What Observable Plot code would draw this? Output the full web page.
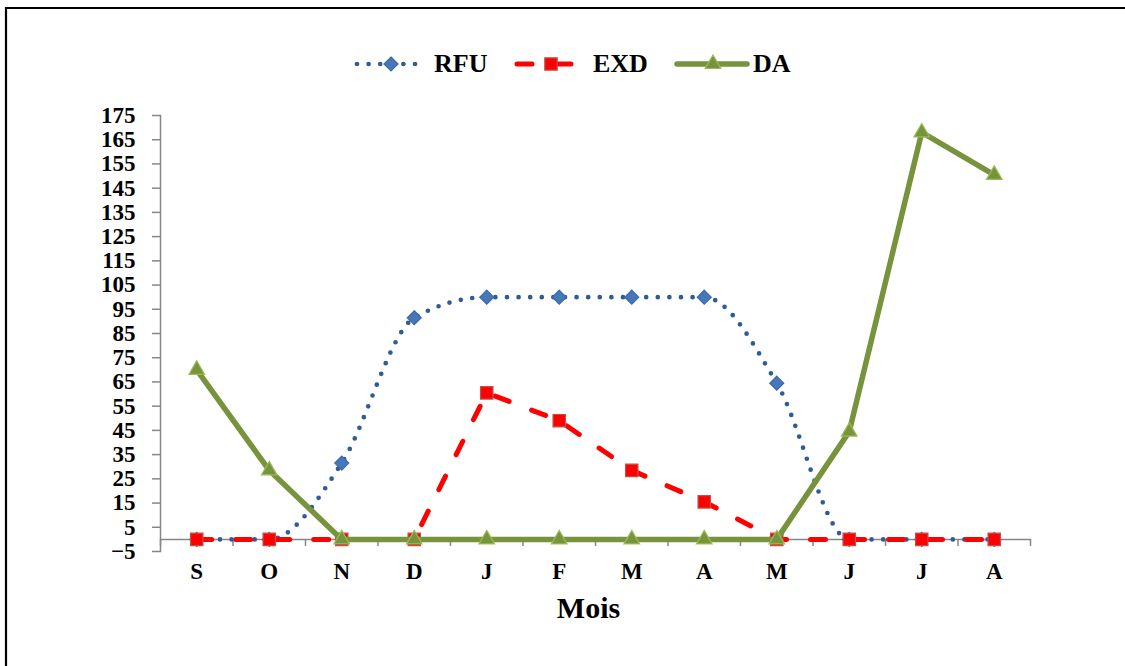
<!DOCTYPE html>
<html><head><meta charset="utf-8">
<script src="https://cdn.jsdelivr.net/npm/d3@7"></script>
<script src="https://cdn.jsdelivr.net/npm/@observablehq/plot@0.6"></script>
<style>
html,body{margin:0;background:#fff;overflow:hidden;}
#wrap{position:relative;width:1125px;height:666px;overflow:hidden;background:#fff}
#border{position:absolute;left:0;top:0;pointer-events:none}
#legend svg,#chart svg{display:block}
</style></head>
<body><div id="wrap"><div id="legend"></div><div id="chart"></div><svg id="border" width="1125" height="666"></svg></div>
<script>
// ---- data ----
const months = ["S","O","N","D","J","F","M","A","M","J","J","A"];
const seriesNames = ["RFU","EXD","DA"];
const rfu = [0, 0, 31.5, 91.5, 100, 100, 100, 100, 64.5, 0, 0, 0];
const exd = [0, 0, 0, 0, 60.5, 49, 28.5, 15.5, 0, 0, 0, 0];
const da  = [70, 28.5, 0, 0, 0, 0, 0, 0, 0, 44.5, 168, 150.5];
const yTicks = d3.range(-5, 176, 10);

// ---- styles ----
const FONT = "'Liberation Serif','Times New Roman',serif";
const styles = {
  RFU: {stroke:"#2F5B96", width:4.7, dash:"0 11.6", symbol:"diamond2", r:6.3, mfill:"#4677BA", mstroke:"#3A6AAD", curve:"monotone-x"},
  EXD: {stroke:"#FF0000", width:5, dash:"15 24", symbol:"square", r:7, mfill:"#FF0000", mstroke:"#C0504D", curve:"linear"},
  DA:  {stroke:"#77933C", width:5.5, dash:null, symbol:"triangle", r:5.8, mfill:"#77933C", mstroke:"#9BBB59", curve:"linear"}
};
const values = {RFU: rfu, EXD: exd, DA: da};
const rows = name => values[name].map((v, i) => ({i, v, name}));

// ---- outer frame (left and top edges only) ----
d3.select("#border").append("path").attr("d", "M6,666V8H1125")
  .attr("fill", "none").attr("stroke", "#000").attr("stroke-width", 2.2);

// ---- legend (above the plot) ----
const legendLayout = {RFU:{x0:357, x1:419, mx:391, tx:434}, EXD:{x0:517, x1:577, mx:551, tx:593}, DA:{x0:677, x1:747, mx:713, tx:753}};
const symMap = {diamond2: d3.symbolDiamond2, square: d3.symbolSquare, triangle: d3.symbolTriangle};
const lsvg = d3.select("#legend").append("svg").attr("width", 1125).attr("height", 95);
for (const name of seriesNames) {
  const s = styles[name], L = legendLayout[name];
  lsvg.append("line").attr("x1", L.x0).attr("x2", L.x1).attr("y1", 64).attr("y2", 64)
    .attr("stroke", s.stroke).attr("stroke-width", s.width).attr("stroke-linecap", "round")
    .attr("stroke-dasharray", s.dash);
  lsvg.append("path").attr("transform", `translate(${L.mx},64)`)
    .attr("d", d3.symbol(symMap[s.symbol], s.r * s.r * Math.PI)())
    .attr("fill", s.mfill).attr("stroke", s.mstroke).attr("stroke-width", 1.2);
  lsvg.append("text").attr("x", L.tx).attr("y", 72).text(name)
    .attr("font-family", FONT).attr("font-weight", "bold").attr("font-size", 26).attr("fill", "#000");
}

// ---- plot ----
const seriesMarks = seriesNames.flatMap(name => {
  const s = styles[name];
  return [
    Plot.line(rows(name), {x:"i", y:"v", stroke:s.stroke, strokeWidth:s.width, strokeDasharray:s.dash, strokeLinecap:"round", strokeLinejoin:"round", curve:s.curve}),
    Plot.dot(rows(name), {x:"i", y:"v", symbol:s.symbol, r:s.r, fill:s.mfill, stroke:s.mstroke, strokeWidth:1.2})
  ];
});

const chart = Plot.plot({
  width: 1125, height: 571,
  marginTop: 20, marginBottom: 115, marginLeft: 160, marginRight: 95,
  style: {fontFamily: FONT, background: "white", color: "black", overflow: "visible"},
  x: {type: "linear", domain: [-0.5, months.length - 0.5]},
  y: {domain: [-5, 175]},
  marks: [
    Plot.ruleY([0], {stroke:"#868686", strokeWidth:1.5}),
    Plot.ruleX(d3.range(-0.5, months.length, 1), {x: d => d, y1: 0, y2: 0, insetBottom: -7, stroke:"#868686", strokeWidth:1.5}),
    Plot.frame({anchor:"left", stroke:"#868686", strokeWidth:1.5}),
    Plot.axisY({ticks: yTicks, tickSize: 8, fill: "none", stroke: "#868686", strokeWidth: 1.5, label: null}),
    Plot.axisY({ticks: yTicks, tickSize: 0, tickPadding: 25, label: null, fontSize: 23, fontWeight: "bold", fill: "#000"}),
    Plot.axisX({ticks: d3.range(months.length), tickFormat: i => months[i], tickSize: 0, tickPadding: 11, label: null, fontSize: 23, fontWeight: "bold", fill: "#000"}),
    Plot.text(["Mois"], {frameAnchor: "bottom", dy: 66, dx: -7, fontSize: 30, fontWeight: "bold", fill: "#000"}),
    ...seriesMarks
  ]
});
document.getElementById("chart").appendChild(chart);
</script>
</body></html>
